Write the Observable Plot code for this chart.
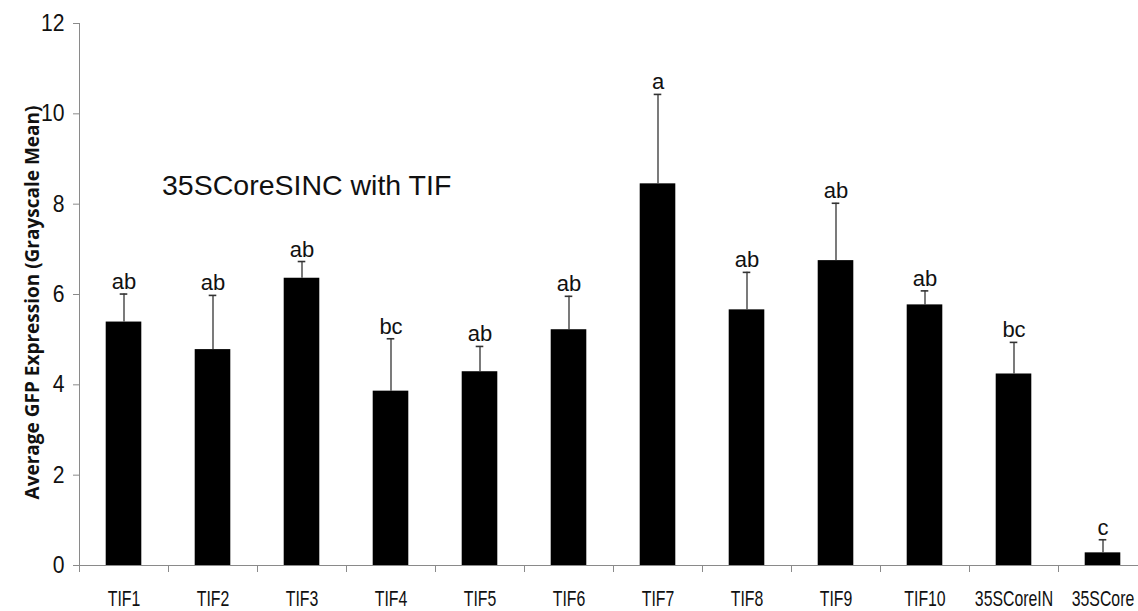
<!DOCTYPE html>
<html>
<head>
<meta charset="utf-8">
<script src="https://cdn.jsdelivr.net/npm/d3@7"></script>
<script src="https://cdn.jsdelivr.net/npm/@observablehq/plot@0.6"></script>
<style>
  html, body { margin: 0; padding: 0; background: #fff; }
  #chart { width: 1138px; height: 611px; overflow: hidden; }
</style>
</head>
<body>
<div id="chart"></div>
<script>
// ---- data ----
const categories = ["TIF1", "TIF2", "TIF3", "TIF4", "TIF5", "TIF6", "TIF7", "TIF8", "TIF9", "TIF10", "35SCoreIN", "35SCore"];
const means      = [5.39, 4.78, 6.36, 3.86, 4.29, 5.22, 8.45, 5.66, 6.75, 5.77, 4.24, 0.28];
const errorTops  = [6.01, 5.98, 6.73, 5.02, 4.85, 5.96, 10.43, 6.49, 8.02, 6.08, 4.94, 0.57];
const letters    = ["ab", "ab", "ab", "bc", "ab", "ab", "a", "ab", "ab", "ab", "bc", "c"];
const yTicks     = [0, 2, 4, 6, 8, 10, 12];
const title      = "35SCoreSINC with TIF";
const yLabel     = "Average GFP Expression (Grayscale Mean)";

const data = categories.map((c, i) => ({cat: c, mean: means[i], err: errorTops[i], letter: letters[i]}));

const xRange = [79, 1147];
const step = (xRange[1] - xRange[0]) / categories.length;
const arial = "'Liberation Sans', Arial, sans-serif";

const chart = Plot.plot({
  width: 1138,
  height: 611,
  marginLeft: 79,
  marginRight: 0,
  marginTop: 23,
  marginBottom: 46,
  style: {background: "white", overflow: "hidden"},
  x: {domain: categories, range: xRange, paddingInner: 0.6, paddingOuter: 0.3, round: false, axis: null},
  y: {domain: [0, 12], axis: null},
  marks: [
    Plot.barY(data, {x: "cat", y: "mean", fill: "black"}),
    Plot.ruleX(data, {x: "cat", y1: "mean", y2: "err", stroke: "#333", strokeWidth: 1.3}),
    Plot.tickY(data, {x: "cat", y: "err", stroke: "#333", strokeWidth: 1.6, insetLeft: 14, insetRight: 14}),
    Plot.text(data, {x: "cat", y: "err", text: "letter", lineAnchor: "bottom", dy: -5, fontSize: 22, fontFamily: arial, fill: "#111"}),
    Plot.frame({anchor: "left", stroke: "#8a8a8a"}),
    Plot.ruleY([0], {stroke: "#8a8a8a"}),
    Plot.axisY({ticks: yTicks, tickSize: 6, tickPadding: 9, fontSize: 23, fontFamily: arial, stroke: "#8a8a8a", fill: "#111", label: null}),
    Plot.axisX({tickSize: 7, tickFormat: () => "", dx: -step / 2, stroke: "#8a8a8a", label: null}),
    Plot.axisX({tickSize: 0, tickPadding: 25, fontSize: 22, fontFamily: arial, fill: "#111", label: null}),
    Plot.text([title], {x: () => categories[0], y: () => 8.4, text: d => d, textAnchor: "start", dx: 38, lineAnchor: "middle", fontSize: 28.5, fontFamily: arial, fill: "#111"}),
    Plot.text([yLabel], {frameAnchor: "left", text: d => d, rotate: -90, textAnchor: "middle", dx: -47, dy: 8, fontSize: 19, fontWeight: "bold", fontFamily: "'Open Sans', sans-serif", fill: "#111"})
  ]
});

// The reference's axis labels are set in a condensed face; compress them horizontally.
d3.select(chart).selectAll('g[aria-label="x-axis tick label"] text')
  .attr("transform", function () { return (this.getAttribute("transform") || "") + " scale(0.72,1)"; });
d3.select(chart).selectAll('g[aria-label="y-axis tick label"] text')
  .attr("transform", function () { return (this.getAttribute("transform") || "") + " scale(0.92,1)"; });

document.getElementById("chart").append(chart);
</script>
</body>
</html>
